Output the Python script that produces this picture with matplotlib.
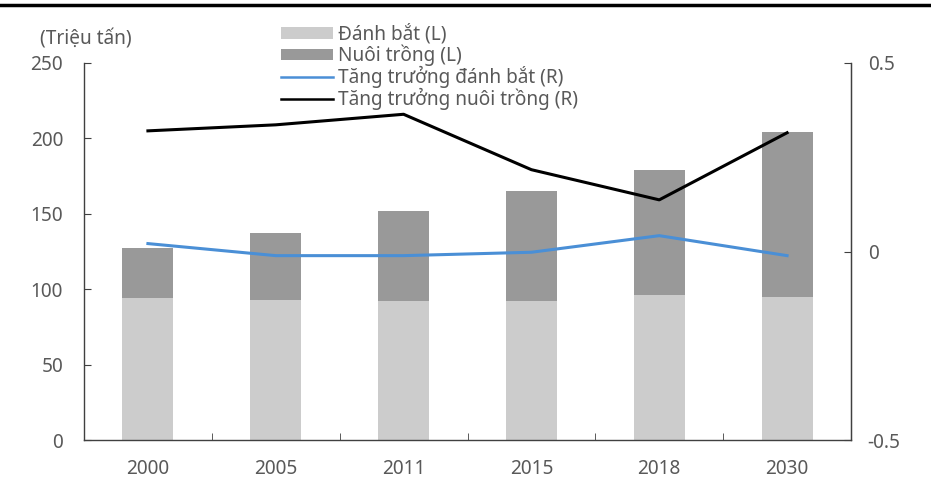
import matplotlib
matplotlib.use("Agg")
import matplotlib.pyplot as plt
from matplotlib.lines import Line2D
from matplotlib.patches import Patch
import numpy as np

years = ["2000", "2005", "2011", "2015", "2018", "2030"]
capture = [94.2, 93.0, 92.2, 92.2, 96.2, 95.0]
aquaculture_total = [127.1, 137.1, 151.9, 165.1, 178.8, 204.0]
aquaculture = [t - c for t, c in zip(aquaculture_total, capture)]
growth_capture = [0.021, -0.011, -0.011, -0.002, 0.042, -0.011]
growth_aqua = [0.320, 0.336, 0.364, 0.217, 0.137, 0.315]

left_ticks = [0, 50, 100, 150, 200, 250]
right_ticks = [-0.5, 0, 0.5]
right_labels = ["-0.5", "0", "0.5"]

TXT = "#595959"
plt.rcParams['font.family'] = ['Noto Sans', 'DejaVu Sans']
FS = 13.7

fig = plt.figure(figsize=(9.31, 4.93), dpi=100)
ax = fig.add_axes([84/931, 1-440/493, (851-84)/931, (440-63)/493])
x = np.arange(len(years))
ax.bar(x, capture, width=0.4, color="#CCCCCC", zorder=2)
ax.bar(x, aquaculture, width=0.4, bottom=capture, color="#999999", zorder=2)
ax.set_xlim(-0.5, len(years) - 0.5)
ax.set_ylim(0, 250)
ax.set_yticks(left_ticks)
ax.set_yticklabels([str(v) for v in left_ticks])
ax.set_xticks(x)
ax.set_xticklabels(years)
ax.set_xticks(np.arange(0.5, len(years) - 1, 1), minor=True)
ax.tick_params(axis='x', which='major', length=0, pad=14, labelsize=FS, labelcolor=TXT)
ax.tick_params(axis='x', which='minor', direction='in', length=5, color="#404040")
ax.tick_params(axis='y', direction='in', length=5, pad=15, labelsize=FS, labelcolor=TXT, color="#404040")
ax.spines['top'].set_visible(False)
for s in ['left', 'right', 'bottom']:
    ax.spines[s].set_color("#404040")
    ax.spines[s].set_linewidth(1.0)

ax2 = ax.twinx()
ax2.plot(x, growth_capture, color="#4A8FD6", lw=2.2, zorder=3)
ax2.plot(x, growth_aqua, color="#000000", lw=2.2, zorder=3)
ax2.set_ylim(-0.5, 0.5)
ax2.set_yticks(right_ticks)
ax2.set_yticklabels(right_labels)
ax2.tick_params(axis='y', direction='in', length=5, pad=12, labelsize=FS, labelcolor=TXT, color="#404040")
for s in ['top', 'left', 'bottom']:
    ax2.spines[s].set_visible(False)
ax2.spines['right'].set_color("#404040")

fig.text(40/931, 1-40/493, "(Triệu tấn)", fontsize=FS, color=TXT, ha='left', va='center')

handles = [Patch(facecolor="#CCCCCC", edgecolor="none"),
           Patch(facecolor="#999999", edgecolor="none"),
           Line2D([], [], color="#4A8FD6", lw=1.8),
           Line2D([], [], color="#000000", lw=1.8)]
labels = ["Đánh bắt (L)", "Nuôi trồng (L)", "Tăng trưởng đánh bắt (R)", "Tăng trưởng nuôi trồng (R)"]
leg = fig.legend(handles, labels, loc='upper left', bbox_to_anchor=(281/931, 1-24/493),
                 frameon=False, fontsize=FS, labelcolor=TXT, handlelength=2.73, handleheight=0.55,
                 handletextpad=0.27, labelspacing=0.0, borderaxespad=0, borderpad=0)

fig.add_artist(Line2D([0, 1], [1-5/493, 1-5/493], color="black", lw=2.5, transform=fig.transFigure))

fig.savefig("out.png", dpi=100)
